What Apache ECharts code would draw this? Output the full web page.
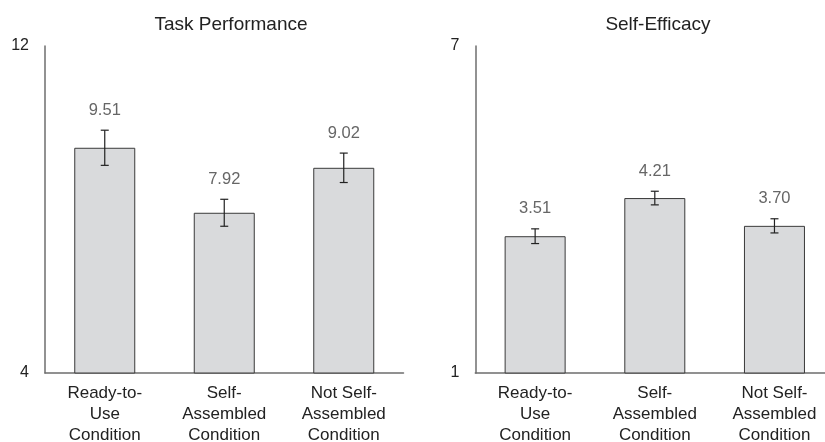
<!DOCTYPE html>
<html>
<head>
<meta charset="utf-8">
<script src="https://cdn.jsdelivr.net/npm/echarts@6/dist/echarts.min.js"></script>
<style>
html,body{margin:0;padding:0;background:#fff;}
#chart{width:825px;height:442px;}
</style>
</head>
<body>
<div id="chart"></div>
<script>
const categories = ['Ready-to-\nUse\nCondition', 'Self-\nAssembled\nCondition', 'Not Self-\nAssembled\nCondition'];
const titles = ['Task Performance', 'Self-Efficacy'];
const taskMeans = [9.51, 7.92, 9.02];
const taskErrors = [0.43, 0.33, 0.36];
const efficacyMeans = [3.51, 4.21, 3.70];
const efficacyErrors = [0.135, 0.125, 0.13];
const taskTicks = [4, 12];
const efficacyTicks = [1, 7];

const FONT = '"Liberation Sans", Arial, Helvetica, sans-serif';
const chart = echarts.init(document.getElementById('chart'));

function errorSeries(idx, means, errs) {
  return {
    type: 'custom',
    xAxisIndex: idx,
    yAxisIndex: idx,
    z: 5,
    data: means.map((m, i) => [i, m, errs[i]]),
    renderItem: function (params, api) {
      const x = api.value(0), m = api.value(1), e = api.value(2);
      const top = api.coord([x, m + e]);
      const bot = api.coord([x, m - e]);
      const hw = 4;
      const st = { stroke: '#222', lineWidth: 1.2 };
      return {
        type: 'group',
        children: [
          { type: 'line', shape: { x1: top[0], y1: top[1], x2: bot[0], y2: bot[1] }, style: st },
          { type: 'line', shape: { x1: top[0] - hw, y1: top[1], x2: top[0] + hw, y2: top[1] }, style: st },
          { type: 'line', shape: { x1: bot[0] - hw, y1: bot[1], x2: bot[0] + hw, y2: bot[1] }, style: st },
          { type: 'text', style: { x: top[0], y: top[1] - 20, text: m.toFixed(2), fill: '#666', font: '16.5px ' + FONT, align: 'center', verticalAlign: 'middle' } }
        ]
      };
    }
  };
}

function barSeries(idx, means) {
  return {
    type: 'bar',
    xAxisIndex: idx,
    yAxisIndex: idx,
    data: means,
    barWidth: 61,
    itemStyle: { color: '#d9dadc', borderColor: '#3a3a3a', borderWidth: 1 },
    silent: true
  };
}

const axisLineStyle = { show: true, lineStyle: { color: '#6e6e6e', width: 1.5 } };

function xAxis(idx) {
  return {
    type: 'category',
    gridIndex: idx,
    data: categories,
    axisLine: axisLineStyle,
    axisTick: { show: false },
    axisLabel: { interval: 0, fontSize: 17, lineHeight: 21, margin: 10, color: '#222', fontFamily: FONT }
  };
}

function yAxis(idx, ticks) {
  return {
    type: 'value',
    gridIndex: idx,
    min: ticks[0],
    max: ticks[ticks.length - 1],
    axisLine: axisLineStyle,
    axisTick: { show: false },
    splitLine: { show: false },
    axisLabel: { customValues: ticks, fontSize: 16, margin: 16, color: '#222', fontFamily: FONT }
  };
}

chart.setOption({
  animation: false,
  title: [
    { text: titles[0], left: 226, top: 10, textAlign: 'center', textStyle: { fontSize: 19, fontWeight: 'normal', color: '#222', fontFamily: FONT } },
    { text: titles[1], left: 653, top: 10, textAlign: 'center', textStyle: { fontSize: 19, fontWeight: 'normal', color: '#222', fontFamily: FONT } }
  ],
  grid: [
    { left: 45, top: 46, width: 358.5, height: 327, containLabel: false, outerBoundsMode: 'none' },
    { left: 475.3, top: 46, width: 359, height: 327, containLabel: false, outerBoundsMode: 'none' }
  ],
  xAxis: [xAxis(0), xAxis(1)],
  yAxis: [yAxis(0, taskTicks), yAxis(1, efficacyTicks)],
  series: [
    barSeries(0, taskMeans),
    errorSeries(0, taskMeans, taskErrors),
    barSeries(1, efficacyMeans),
    errorSeries(1, efficacyMeans, efficacyErrors)
  ]
});
</script>
</body>
</html>
